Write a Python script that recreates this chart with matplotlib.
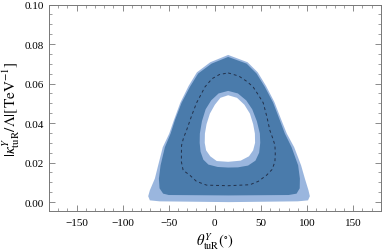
"""Allowed region in the (theta, |kappa|/Lambda) plane: outer band, inner ring and best-fit contour."""

import matplotlib
matplotlib.use("Agg")
import matplotlib.pyplot as plt
from matplotlib.ticker import MultipleLocator, FormatStrFormatter

plt.rcParams["font.family"] = "serif"
plt.rcParams["font.serif"] = ["Liberation Serif", "DejaVu Serif"]
plt.rcParams["mathtext.fontset"] = "stix"

DARK = "#4a7bab"
LIGHT = "#9ab6de"

# outer light band (theta in deg, kappa in TeV^-1)
outer_light_theta = [14.4, 35.5, 46.5, 55.5, 64.5, 72.0, 78.0, 86.0, 93.5, 97.6, 101.5, 103.0,
                     101.0, 90.0, 15.0, -60.0, -70.5, -72.3, -70.5, -65.1, -61.5, -56.5, -49.5,
                     -44.5, -37.5, -28.5, -19.5, -5.0]
outer_light_kappa = [0.0745, 0.0708, 0.0657, 0.0588, 0.0507, 0.0417, 0.0347, 0.0278, 0.0186, 0.0119,
                     0.0060, 0.0030, 0.0009, 0.0004, 0.0000, 0.0004, 0.0009, 0.0030, 0.0060, 0.0119,
                     0.0186, 0.0278, 0.0347, 0.0414, 0.0503, 0.0588, 0.0657, 0.0708]

# dark band
dark_theta = [14.4, 34.4, 45.2, 54.2, 63.2, 70.5, 75.9, 83.2, 90.3, 92.2, 92.0, 88.6, 80.0, 15.0,
              -50.0, -56.1, -60.0, -60.7, -58.9, -54.2, -48.0, -43.4, -36.1, -27.1, -18.1, -3.6]
dark_kappa = [0.0735, 0.0701, 0.0651, 0.0583, 0.0503, 0.0414, 0.0347, 0.0278, 0.0186, 0.0119,
              0.0070, 0.0043, 0.0036, 0.0034, 0.0036, 0.0043, 0.0070, 0.0119, 0.0186, 0.0278,
              0.0347, 0.0414, 0.0503, 0.0583, 0.0651, 0.0701]

# inner light ring
ring_theta = [14.4, 25.0, 34.0, 40.5, 45.5, 48.8, 49.2, 48.0, 44.0, 36.0, 25.0, 14.4, 3.0, -7.0,
              -12.5, -15.5, -16.5, -16.3, -14.0, -10.0, -4.0, 4.0]
ring_kappa = [0.0563, 0.0550, 0.0515, 0.0470, 0.0410, 0.0347, 0.0300, 0.0250, 0.0210, 0.0185,
              0.0176, 0.0175, 0.0178, 0.0190, 0.0215, 0.0255, 0.0300, 0.0347, 0.0410, 0.0470,
              0.0515, 0.0550]

# excluded hole
hole_theta = [14.4, 24.0, 32.0, 38.0, 41.5, 43.4, 43.6, 41.5, 37.0, 28.0, 14.4, 2.0, -5.0, -9.5,
              -11.0, -10.8, -9.0, -5.4, 0.0, 6.0]
hole_kappa = [0.0541, 0.0528, 0.0493, 0.0448, 0.0395, 0.0347, 0.0300, 0.0262, 0.0232, 0.0210,
              0.0204, 0.0208, 0.0232, 0.0262, 0.0300, 0.0347, 0.0395, 0.0448, 0.0493, 0.0528]

# dashed contour
dash_theta = [14.4, 26.0, 35.0, 41.5, 47.5, 52.4, 56.5, 59.6, 63.0, 65.1, 65.5, 65.1, 62.0, 56.0,
              47.0, 38.0, 14.4, -9.0, -20.0, -27.1, -34.4, -36.3, -36.3, -36.1, -34.0, -30.7,
              -25.0, -19.8, -15.0, -10.8, -3.0, 5.0, 14.4]
dash_kappa = [0.0654, 0.0638, 0.0610, 0.0583, 0.0540, 0.0503, 0.0430, 0.0364, 0.0320, 0.0288,
              0.0245, 0.0204, 0.0165, 0.0136, 0.0105, 0.0088, 0.0083, 0.0086, 0.0105, 0.0136,
              0.0161, 0.0204, 0.0250, 0.0288, 0.0325, 0.0364, 0.0440, 0.0503, 0.0545, 0.0583,
              0.0625, 0.0646, 0.0654]


def main():
    fig, ax = plt.subplots(figsize=(3.82, 2.53), dpi=100)
    fig.subplots_adjust(left=0.128, right=0.997, bottom=0.162, top=0.978)

    ax.fill(outer_light_theta, outer_light_kappa, color=LIGHT, lw=0)
    ax.fill(dark_theta, dark_kappa, color=DARK, lw=0)
    ax.fill(ring_theta, ring_kappa, color=LIGHT, lw=0)
    ax.fill(hole_theta, hole_kappa, color="white", lw=0)
    ax.plot(dash_theta, dash_kappa, color="#22304a", lw=0.7, linestyle=(0, (3, 3)))

    ax.set_xlim(-180, 180)
    ax.set_ylim(-0.0045, 0.1)
    ax.xaxis.set_major_locator(MultipleLocator(50))
    ax.xaxis.set_minor_locator(MultipleLocator(10))
    ax.yaxis.set_major_locator(MultipleLocator(0.02))
    ax.yaxis.set_minor_locator(MultipleLocator(0.005))
    ax.yaxis.set_major_formatter(FormatStrFormatter("%.2f"))

    ax.tick_params(which="both", direction="in", top=True, right=True,
                   color="#777777", labelsize=8)
    ax.tick_params(which="major", length=4, width=0.6)
    ax.tick_params(axis="x", which="major", pad=5)
    ax.tick_params(which="minor", length=2, width=0.5)
    for sp in ax.spines.values():
        sp.set_color("#777777")
        sp.set_linewidth(0.7)

    ax.set_xlabel(r"$\theta^{Y}_{\mathrm{tuR}}(^{\circ})$", fontsize=10.5, labelpad=2)
    ax.set_ylabel(r"$|\kappa^{Y}_{\mathrm{tuR}}/\Lambda|[\mathrm{TeV}^{-1}]$", fontsize=11, labelpad=2)

    fig.savefig("out.png", dpi=100)


if __name__ == "__main__":
    main()
